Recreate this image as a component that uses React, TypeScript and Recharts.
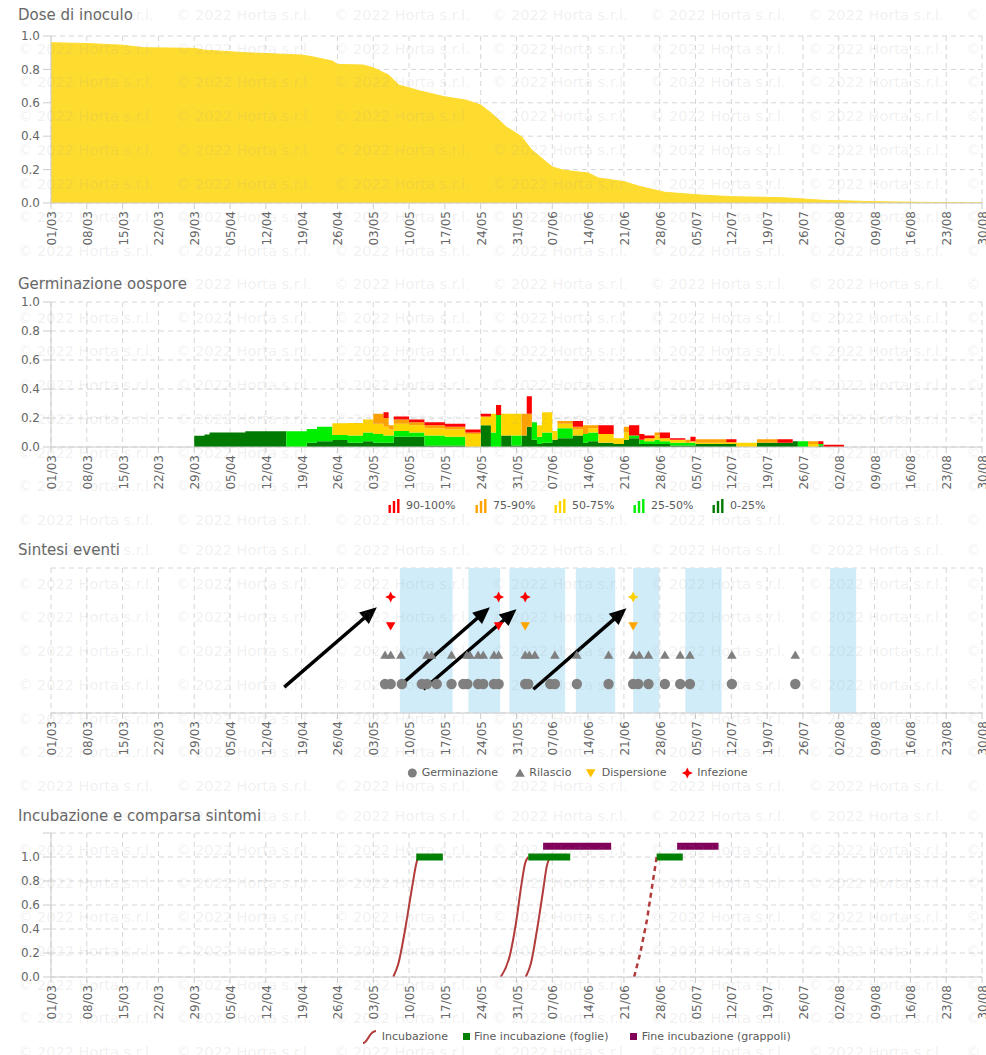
import React from 'react';
import {
  ComposedChart, Area, Line, Scatter, XAxis, YAxis, CartesianGrid, ReferenceArea, ReferenceLine,
} from 'recharts';

const FONT = '"DejaVu Sans", Verdana, sans-serif';
const TXT = '#666666';
const GRID = '#d6d6d6';
const AXIS = '#cccccc';
const W = 986;

// asse date: un tick ogni 7 giorni a partire dal 01/03 (giorno 0)
const DATE_LABELS = [
  '01/03', '08/03', '15/03', '22/03', '29/03', '05/04', '12/04', '19/04', '26/04',
  '03/05', '10/05', '17/05', '24/05', '31/05', '07/06', '14/06', '21/06', '28/06',
  '05/07', '12/07', '19/07', '26/07', '02/08', '09/08', '16/08', '23/08', '30/08',
];
const DATE_TICKS = DATE_LABELS.map((_, i) => i * 7);

// 1. Dose di inoculo
const doseDays = [0, 7, 14, 18, 28, 30, 35, 38, 49, 51, 55, 56, 61, 63, 66, 68, 70, 72, 77, 81, 84, 86, 88, 89, 90, 92, 94, 98, 100, 102, 105, 107, 112, 115, 120, 127, 133, 140, 144, 151, 161, 170, 182];
const doseValues = [0.96, 0.955, 0.945, 0.93, 0.926, 0.915, 0.906, 0.9, 0.886, 0.876, 0.85, 0.83, 0.826, 0.81, 0.766, 0.706, 0.69, 0.672, 0.636, 0.617, 0.587, 0.54, 0.485, 0.455, 0.437, 0.396, 0.317, 0.216, 0.198, 0.19, 0.18, 0.15, 0.128, 0.1, 0.064, 0.048, 0.038, 0.034, 0.03, 0.016, 0.008, 0.004, 0.001];

// 2. Germinazione oospore (quota giornaliera per classe)
const germDays = [28, 30, 31, 38, 46, 50, 52, 55, 58, 61, 63, 65, 66, 67, 70, 73, 77, 81, 84, 86, 87, 88, 90, 92, 93, 94, 95, 96, 98, 99, 102, 104, 105, 107, 110, 112, 113, 115, 116, 118, 119, 121, 124, 125, 126, 132, 134, 138, 142, 145, 146, 148, 150, 151, 155];
const germ0_25 = [0.078, 0.087, 0.1, 0.108, 0, 0.03, 0.04, 0.048, 0.03, 0.04, 0.03, 0.03, 0.03, 0.07, 0.07, 0.01, 0.01, 0, 0.15, 0, 0, 0.08, 0.01, 0.08, 0.14, 0.05, 0.02, 0.03, 0.05, 0.06, 0.08, 0.03, 0.04, 0.03, 0.02, 0.05, 0.06, 0.02, 0.02, 0.02, 0.02, 0.01, 0.01, 0.01, 0.02, 0.02, 0, 0.03, 0.03, 0.04, 0, 0, 0.01, 0, 0];
const germ25_50 = [0, 0, 0, 0, 0.108, 0.095, 0.1, 0.035, 0.05, 0.06, 0.06, 0.05, 0.05, 0.04, 0.03, 0.07, 0.06, 0, 0, 0.1, 0.22, 0, 0.07, 0, 0, 0.12, 0.05, 0.07, 0, 0.07, 0, 0.06, 0.06, 0, 0, 0, 0.02, 0.03, 0.02, 0.03, 0.02, 0.02, 0.02, 0.02, 0, 0, 0, 0, 0, 0, 0.04, 0, 0.01, 0, 0];
const germ50_75 = [0, 0, 0, 0, 0, 0, 0, 0.08, 0.085, 0.09, 0.07, 0.06, 0.04, 0.05, 0.05, 0.05, 0.05, 0.09, 0.06, 0.13, 0, 0.15, 0.15, 0, 0, 0, 0.08, 0.14, 0.06, 0.03, 0.04, 0, 0.03, 0.06, 0.04, 0.05, 0, 0, 0.02, 0.03, 0.02, 0.02, 0, 0.01, 0.01, 0.013, 0.03, 0, 0, 0, 0, 0.02, 0, 0, 0];
const germ75_90 = [0, 0, 0, 0, 0, 0, 0, 0, 0, 0, 0.07, 0.06, 0.03, 0.03, 0.02, 0.02, 0.02, 0.01, 0, 0, 0, 0, 0, 0.15, 0.09, 0, 0, 0, 0, 0.02, 0.02, 0.06, 0.02, 0, 0, 0.04, 0, 0, 0, 0.02, 0, 0, 0.02, 0, 0.023, 0, 0, 0.023, 0, 0, 0, 0.02, 0, 0, 0];
const germ90_100 = [0, 0, 0, 0, 0, 0, 0, 0, 0, 0, 0, 0.04, 0, 0.02, 0.02, 0.02, 0.02, 0.02, 0.02, 0, 0.07, 0, 0, 0, 0.12, 0, 0, 0, 0, 0, 0.04, 0, 0, 0.06, 0, 0, 0.07, 0.04, 0.02, 0, 0.04, 0.01, 0, 0.03, 0, 0.02, 0, 0, 0.023, 0, 0, 0, 0.02, 0.015, 0];

const GERM_CLASSES = [
  { key: 'g0', name: '0-25%', color: '#007a00', values: germ0_25 },
  { key: 'g1', name: '25-50%', color: '#00ee00', values: germ25_50 },
  { key: 'g2', name: '50-75%', color: '#ffd500', values: germ50_75 },
  { key: 'g3', name: '75-90%', color: '#ffa200', values: germ75_90 },
  { key: 'g4', name: '90-100%', color: '#ff0000', values: germ90_100 },
];

// 3. Sintesi eventi
const germinazioneDays = [65.3, 66.4, 68.6, 72.5, 73.5, 75.4, 78.3, 80.6, 81.4, 83.5, 84.5, 86.6, 87.5, 92.7, 93.3, 97.6, 98.5, 102.8, 109, 113.8, 114.8, 116.8, 120, 123, 124.9, 133.1, 145.5];
const rilascioDays = [65.3, 66.4, 68.4, 73.5, 74.4, 78.3, 81.3, 81.9, 83.5, 84.5, 86.6, 87.5, 92.7, 93.5, 94.6, 98.5, 102.8, 109, 113.8, 115, 116.8, 120, 123, 124.9, 133.1, 145.5];
const dispersioneAltaDays = [66.4, 87.5];
const dispersioneMediaDays = [92.7, 113.8];
const infezioneAltaDays = [66.4, 87.5, 92.7];
const infezioneMediaDays = [113.8];
const bandStart = [68.2, 81.6, 89.6, 102.6, 113.8, 124.0, 152.3];
const bandEnd = [78.5, 87.8, 100.5, 110.3, 118.9, 131.1, 157.4];
// frecce: giorno/valore di partenza e di arrivo
const arrowFromDay = [45.6, 67.9, 72.8, 94.3];
const arrowFromY = [0.89, 0.89, 0.82, 0.82];
const arrowToDay = [63.7, 85.8, 91.0, 112.5];
const arrowToY = [3.65, 3.65, 3.58, 3.61];

// 4. Incubazione e comparsa sintomi
const incubDays = [
  [66.9, 67.9, 69.2, 70.5, 71.5, 71.8],
  [87.9, 89.7, 90.9, 92.0, 92.7, 93.3],
  [92.8, 93.8, 95.0, 96.3, 96.9, 97.6],
];
const incubValues = [
  [0, 0.11, 0.39, 0.725, 0.96, 1.0],
  [0, 0.18, 0.45, 0.78, 0.95, 1.0],
  [0, 0.11, 0.39, 0.75, 0.92, 1.0],
];
const incubPrevDays = [114.0, 115.2, 116.5, 117.4, 118.4];
const incubPrevValues = [0, 0.2, 0.475, 0.725, 1.0];
const foglieStart = [71.4, 93.3, 118.4];
const foglieEnd = [76.6, 101.5, 123.5];
const grappoliStart = [96.2, 122.4];
const grappoliEnd = [109.5, 130.5];
const FOGLIE_Y = 1.0;
const GRAPPOLI_Y = 1.09;

const doseData = doseDays.map((day, i) => ({ day, v: doseValues[i] }));
const germData = germDays.map((day, i) => {
  const row: any = { day };
  GERM_CLASSES.forEach(c => { row[c.key] = c.values[i]; });
  return row;
});

const DateTick = (props: any) => {
  const { x, y, payload } = props;
  const label = DATE_LABELS[Math.round(payload.value / 7)];
  return (
    <text x={x + 1} y={y} transform={`rotate(-90 ${x + 1} ${y})`} textAnchor="end" dominantBaseline="central"
      fill={TXT} fontSize={12} fontFamily={FONT}>{label}</text>
  );
};

const dateAxis = () => (
  <XAxis dataKey="day" type="number" domain={[0, 182]} ticks={DATE_TICKS} interval={0} allowDataOverflow
    tick={DateTick} tickSize={6} tickMargin={2} tickLine={{ stroke: AXIS }} axisLine={{ stroke: AXIS }} height={62} />
);

const valueAxis = (dataKey: string, max: number, ticks: number[]) => (
  <YAxis dataKey={dataKey} type="number" domain={[0, max]} ticks={ticks} interval={0} allowDataOverflow width={51}
    tickFormatter={(v: number) => (v > 1.05 ? '' : v.toFixed(1))}
    tick={{ fill: TXT, fontSize: 12, fontFamily: FONT }} tickSize={8} tickMargin={3}
    tickLine={{ stroke: AXIS }} axisLine={{ stroke: AXIS }} />
);

const UNIT_TICKS = [0, 0.2, 0.4, 0.6, 0.8, 1.0];

const Title: React.FC<{ top: number; text: string }> = ({ top, text }) => (
  <div style={{ position: 'absolute', left: 18, top: top - 10, fontSize: 15, lineHeight: '20px', color: TXT, fontFamily: FONT, whiteSpace: 'nowrap' }}>{text}</div>
);

const LegendText: React.FC<{ left: number; top: number; text: string }> = ({ left, top, text }) => (
  <div style={{ position: 'absolute', left, top: top - 8, fontSize: 11, lineHeight: '16px', color: '#5a5a5a', fontFamily: FONT, whiteSpace: 'nowrap' }}>{text}</div>
);

const Star = ({ cx, cy, fill, r = 5.5 }: any) => {
  const k = r * 0.33;
  return <polygon points={`${cx},${cy - r} ${cx + k},${cy - k} ${cx + r},${cy} ${cx + k},${cy + k} ${cx},${cy + r} ${cx - k},${cy + k} ${cx - r},${cy} ${cx - k},${cy - k}`} fill={fill} />;
};
const TriUp = ({ cx, cy, fill }: any) => (
  <polygon points={`${cx},${cy - 4.5} ${cx + 4.8},${cy + 3.8} ${cx - 4.8},${cy + 3.8}`} fill={fill} />
);
const TriDown = ({ cx, cy, fill }: any) => (
  <polygon points={`${cx - 4.8},${cy - 3.8} ${cx + 4.8},${cy - 3.8} ${cx},${cy + 4.5}`} fill={fill} />
);

const Arrow = (p: any) => {
  const { x1, y1, x2, y2 } = p;
  const dx = x2 - x1, dy = y2 - y1, len = Math.hypot(dx, dy) || 1;
  const ux = dx / len, uy = dy / len;
  const hl = 17, hw = 7.5;
  const bx = x2 - ux * hl, by = y2 - uy * hl;
  return (
    <g>
      <line x1={x1} y1={y1} x2={bx + ux * 2} y2={by + uy * 2} stroke="#000" strokeWidth={3.5} />
      <polygon points={`${x2},${y2} ${bx - uy * hw},${by + ux * hw} ${bx + uy * hw},${by - ux * hw}`} fill="#000" />
    </g>
  );
};

const PANEL_TOPS = [0, 269, 535, 801];

const Watermark = () => {
  const items: React.ReactNode[] = [];
  PANEL_TOPS.forEach((top, p) => {
    for (let r = 0; r < 8; r++) {
      for (let c = 0; c < 7; c++) {
        items.push(
          <text key={`${p}-${r}-${c}`} x={18 + 158 * c} y={top + 20 + 33.7 * r} fontSize={14.5} fontFamily={FONT}
            fill="rgba(150,150,150,0.15)">© 2022 Horta s.r.l.</text>
        );
      }
    }
  });
  return (
    <svg width={W} height={1055} style={{ position: 'absolute', left: 0, top: 0, pointerEvents: 'none' }}>{items}</svg>
  );
};

const BarIcon = ({ color }: { color: string }) => (
  <svg width={12} height={14} style={{ display: 'block' }}>
    <rect x={0.5} y={6} width={2.4} height={8} fill={color} />
    <rect x={4.8} y={2} width={2.4} height={12} fill={color} />
    <rect x={9.1} y={0} width={2.4} height={14} fill={color} />
  </svg>
);

const App: React.FC = () => {
  const legend2 = [
    { left: 388, text: '90-100%', color: '#ff0000' },
    { left: 475, text: '75-90%', color: '#ffa200' },
    { left: 554, text: '50-75%', color: '#ffd500' },
    { left: 633, text: '25-50%', color: '#00ee00' },
    { left: 712, text: '0-25%', color: '#007a00' },
  ];

  return (
    <div style={{ position: 'absolute', left: 0, top: 0, width: W, height: 1055, background: '#fff', overflow: 'hidden', fontFamily: FONT }}>
      {/* 1. Dose di inoculo */}
      <div style={{ position: 'absolute', left: 0, top: PANEL_TOPS[0] }}>
        <ComposedChart width={W} height={265} data={doseData} margin={{ top: 36, right: 4, left: 0, bottom: 0 }}>
          <CartesianGrid strokeDasharray="5 4" stroke={GRID} />
          {dateAxis()}
          {valueAxis('v', 1, UNIT_TICKS)}
          <Area dataKey="v" type="linear" fill="#fedc2f" fillOpacity={1} stroke="#fedc2f" strokeWidth={1} isAnimationActive={false} />
        </ComposedChart>
      </div>
      <Title top={15} text="Dose di inoculo" />

      {/* 2. Germinazione oospore */}
      <div style={{ position: 'absolute', left: 0, top: PANEL_TOPS[1] }}>
        <ComposedChart width={W} height={240} data={germData} margin={{ top: 33, right: 4, left: 0, bottom: 0 }}>
          <CartesianGrid strokeDasharray="5 4" stroke={GRID} />
          {dateAxis()}
          {valueAxis('g0', 1, UNIT_TICKS)}
          {GERM_CLASSES.map(c => (
            <Area key={c.key} dataKey={c.key} name={c.name} stackId="germ" type="stepAfter" fill={c.color} fillOpacity={1}
              stroke="none" isAnimationActive={false} />
          ))}
        </ComposedChart>
      </div>
      <Title top={284} text="Germinazione oospore" />
      {legend2.map(l => (
        <React.Fragment key={l.text}>
          <div style={{ position: 'absolute', left: l.left, top: 499 }}><BarIcon color={l.color} /></div>
          <LegendText left={l.left + 18} top={506} text={l.text} />
        </React.Fragment>
      ))}

      {/* 3. Sintesi eventi */}
      <div style={{ position: 'absolute', left: 0, top: PANEL_TOPS[2] }}>
        <ComposedChart width={W} height={240} margin={{ top: 33, right: 4, left: 0, bottom: 0 }}>
          {bandStart.map((a, i) => (
            <ReferenceArea key={`b${i}`} x1={a} x2={bandEnd[i]} y1={0} y2={5} fill="#d0ecf9" fillOpacity={1} stroke="none" />
          ))}
          <CartesianGrid strokeDasharray="5 4" stroke={GRID} />
          {dateAxis()}
          <YAxis dataKey="y" type="number" domain={[0, 5]} ticks={[0, 1, 2, 3, 4, 5]} width={51} tick={false}
            tickLine={false} axisLine={false} />
          <Scatter name="Germinazione" data={germinazioneDays.map(day => ({ day, y: 1 }))} isAnimationActive={false}
            shape={(p: any) => <circle cx={p.cx} cy={p.cy} r={5.2} fill="#7f7f7f" />} />
          <Scatter name="Rilascio" data={rilascioDays.map(day => ({ day, y: 2 }))} isAnimationActive={false}
            shape={(p: any) => <TriUp cx={p.cx} cy={p.cy} fill="#7f7f7f" />} />
          <Scatter name="Dispersione" data={dispersioneAltaDays.map(day => ({ day, y: 3 }))} isAnimationActive={false}
            shape={(p: any) => <TriDown cx={p.cx} cy={p.cy} fill="#ff0000" />} />
          <Scatter name="Dispersione media" data={dispersioneMediaDays.map(day => ({ day, y: 3 }))} isAnimationActive={false}
            shape={(p: any) => <TriDown cx={p.cx} cy={p.cy} fill="#ffa500" />} />
          <Scatter name="Infezione" data={infezioneAltaDays.map(day => ({ day, y: 4 }))} isAnimationActive={false}
            shape={(p: any) => <Star cx={p.cx} cy={p.cy} fill="#ff0000" />} />
          <Scatter name="Infezione media" data={infezioneMediaDays.map(day => ({ day, y: 4 }))} isAnimationActive={false}
            shape={(p: any) => <Star cx={p.cx} cy={p.cy} fill="#ffd000" />} />
          {arrowFromDay.map((d, i) => (
            <ReferenceLine key={`a${i}`} segment={[{ x: d, y: arrowFromY[i] }, { x: arrowToDay[i], y: arrowToY[i] }]}
              shape={Arrow} ifOverflow="visible" />
          ))}
        </ComposedChart>
      </div>
      <Title top={550} text="Sintesi eventi" />
      <svg width={W} height={20} style={{ position: 'absolute', left: 0, top: 763 }}>
        <circle cx={412.3} cy={10} r={4.5} fill="#7f7f7f" />
        <TriUp cx={520} cy={10} fill="#7f7f7f" />
        <TriDown cx={590.7} cy={10} fill="#ffc000" />
        <Star cx={687.3} cy={10} fill="#ff0000" r={5.5} />
      </svg>
      <LegendText left={421.7} top={773} text="Germinazione" />
      <LegendText left={529.3} top={773} text="Rilascio" />
      <LegendText left={601.7} top={773} text="Dispersione" />
      <LegendText left={697.3} top={773} text="Infezione" />

      {/* 4. Incubazione e comparsa sintomi */}
      <div style={{ position: 'absolute', left: 0, top: PANEL_TOPS[3] }}>
        <ComposedChart width={W} height={238} margin={{ top: 32, right: 4, left: 0, bottom: 0 }}>
          <CartesianGrid strokeDasharray="5 4" stroke={GRID} />
          {dateAxis()}
          {valueAxis('v', 1.2, [0, 0.2, 0.4, 0.6, 0.8, 1.0, 1.2])}
          {incubDays.map((days, k) => (
            <Line key={`i${k}`} data={days.map((day, i) => ({ day, v: incubValues[k][i] }))} dataKey="v" type="monotone"
              stroke="#b23a3a" strokeWidth={2} dot={false} isAnimationActive={false} />
          ))}
          <Line data={incubPrevDays.map((day, i) => ({ day, v: incubPrevValues[i] }))} dataKey="v" type="linear"
            stroke="#b23a3a" strokeWidth={2.5} strokeDasharray="5 4" dot={false} isAnimationActive={false} />
          {foglieStart.map((a, k) => (
            <Line key={`f${k}`} data={[{ day: a, v: FOGLIE_Y }, { day: foglieEnd[k], v: FOGLIE_Y }]} dataKey="v"
              stroke="#008000" strokeWidth={7} dot={false} isAnimationActive={false} />
          ))}
          {grappoliStart.map((a, k) => (
            <Line key={`g${k}`} data={[{ day: a, v: GRAPPOLI_Y }, { day: grappoliEnd[k], v: GRAPPOLI_Y }]} dataKey="v"
              stroke="#80005a" strokeWidth={7} dot={false} isAnimationActive={false} />
          ))}
        </ComposedChart>
      </div>
      <Title top={816} text="Incubazione e comparsa sintomi" />
      <svg width={W} height={20} style={{ position: 'absolute', left: 0, top: 1027 }}>
        <path d="M363,16 C368,16 369,4 376,4" stroke="#b23a3a" strokeWidth={2} fill="none" />
        <rect x={463} y={6} width={7} height={7} fill="#008000" />
        <rect x={630} y={6} width={7} height={7} fill="#80005a" />
      </svg>
      <LegendText left={381.7} top={1037} text="Incubazione" />
      <LegendText left={474} top={1037} text="Fine incubazione (foglie)" />
      <LegendText left={641.7} top={1037} text="Fine incubazione (grappoli)" />

      <Watermark />
    </div>
  );
};

export default App;
